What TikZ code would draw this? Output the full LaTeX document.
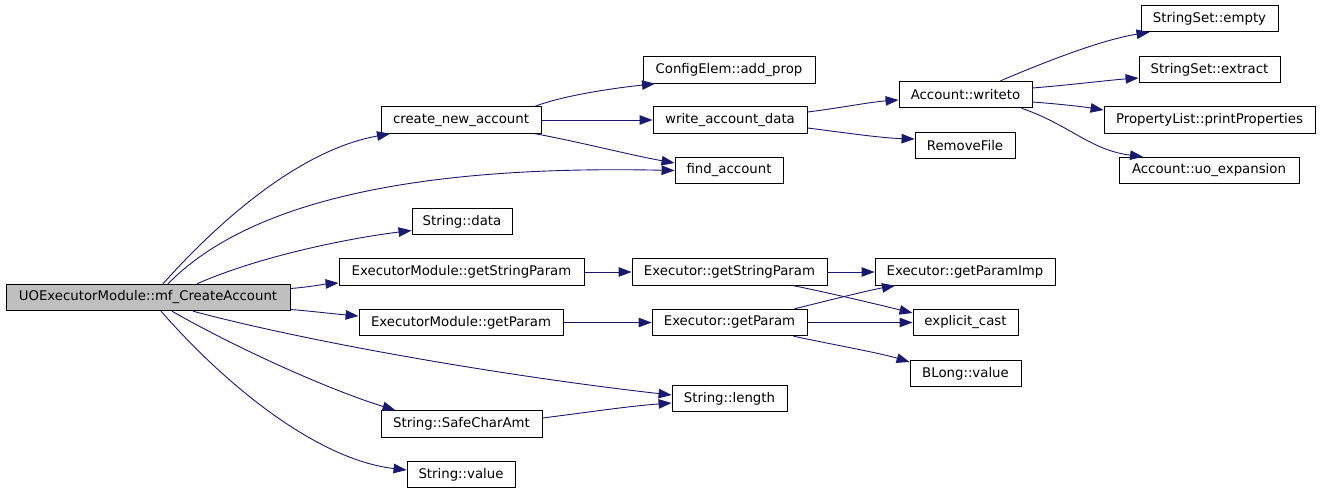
\documentclass[tikz,border=0pt]{standalone}
\usepackage{fontspec}
\setmainfont{DejaVu Sans}
\usetikzlibrary{arrows.meta}
\definecolor{edgeblue}{HTML}{191970}
\definecolor{mainfill}{HTML}{BFBFBF}
\tikzset{
  box/.style={draw=black, fill=white, line width=0.9pt, inner sep=0pt, minimum height=26.5pt, font=\fontsize{13.3}{15}\selectfont},
  mainbox/.style={box, fill=mainfill},
  edge/.style={draw=edgeblue, line width=0.9pt, -{Triangle[length=13pt,width=9.5pt]}},
}
\begin{document}
\begin{tikzpicture}[x=1pt,y=-1pt]
\useasboundingbox[fill=white] (0,0) rectangle (1320,493);
% nodes
\node[mainbox, minimum width=284pt] (main) at (148,297.5) {UOExecutorModule::mf\_CreateAccount};
\node[box, minimum width=160pt] (cna) at (461,120) {create\_new\_account};
\node[box, minimum width=172pt] (addprop) at (729,70) {ConfigElem::add\_prop};
\node[box, minimum width=154pt] (wad) at (730,120) {write\_account\_data};
\node[box, minimum width=108pt] (find) at (729,170.5) {find\_account};
\node[box, minimum width=133pt] (writeto) at (965.5,94.5) {Account::writeto};
\node[box, minimum width=137pt] (empty) at (1209.5,18.5) {StringSet::empty};
\node[box, minimum width=141pt] (extract) at (1209.5,69.5) {StringSet::extract};
\node[box, minimum width=211pt] (printprop) at (1209.5,120) {PropertyList::printProperties};
\node[box, minimum width=100pt] (removefile) at (965,145.5) {RemoveFile};
\node[box, minimum width=180pt] (uoexp) at (1209,170.5) {Account::uo\_expansion};
\node[box, minimum width=100pt] (data) at (462,221.5) {String::data};
\node[box, minimum width=245pt] (emgsp) at (461.5,272) {ExecutorModule::getStringParam};
\node[box, minimum width=204pt] (emgp) at (461,322.5) {ExecutorModule::getParam};
\node[box, minimum width=195pt] (exgsp) at (729.5,272) {Executor::getStringParam};
\node[box, minimum width=180pt] (gpi) at (965,272) {Executor::getParamImp};
\node[box, minimum width=155pt] (exgp) at (729.5,322.5) {Executor::getParam};
\node[box, minimum width=105pt] (cast) at (965.5,322.5) {explicit\_cast};
\node[box, minimum width=111pt] (blong) at (965.5,373.5) {BLong::value};
\node[box, minimum width=115pt] (length) at (729.5,398.5) {String::length};
\node[box, minimum width=161pt] (safe) at (461.5,424) {String::SafeCharAmt};
\node[box, minimum width=108pt] (value) at (461,474.5) {String::value};
% edges from main
\draw[edge] ([xshift=15pt]main.north) .. controls (220,220) and (300,150) .. ([xshift=-71pt]cna.south);
\draw[edge] ([xshift=20pt]main.north) .. controls (250,200) and (420,165) .. (find.west);
\draw[edge] ([xshift=49pt]main.north) .. controls (260,256) and (350,238) .. ([yshift=-9pt]data.west);
\draw[edge] ([yshift=9pt]main.east) .. controls (310,287) and (325,284) .. ([yshift=-11pt]emgsp.west);
\draw[edge] ([yshift=-12pt]main.east) .. controls (310,311) and (335,314) .. ([yshift=6.5pt]emgp.west);
\draw[edge] ([xshift=45pt]main.south) .. controls (320,345) and (520,378) .. ([yshift=3.5pt]length.west);
\draw[edge] ([xshift=24pt]main.south) .. controls (240,350) and (330,390) .. ([xshift=-66pt]safe.north);
\draw[edge] ([xshift=13pt]main.south) .. controls (230,390) and (320,460) .. ([yshift=4.5pt]value.west);
% create_new_account
\draw[edge] ([xshift=74pt]cna.north) .. controls (565,95) and (615,88) .. ([xshift=-74pt]addprop.south);
\draw[edge] (cna.east) -- (wad.west);
\draw[edge] ([xshift=74pt]cna.south) .. controls (580,142) and (630,155) .. ([yshift=7.5pt]find.west);
% write_account_data
\draw[edge] ([yshift=8pt]wad.east) .. controls (840,108) and (870,102) .. ([yshift=-5.5pt]writeto.west);
\draw[edge] ([yshift=-8pt]wad.east) .. controls (840,132) and (880,138) .. ([yshift=6.5pt]removefile.west);
% writeto
\draw[edge] ([xshift=35pt]writeto.north) .. controls (1040,64) and (1100,40) .. ([xshift=-60pt]empty.south);
\draw[edge] ([yshift=6.5pt]writeto.east) .. controls (1070,85) and (1110,80) .. ([yshift=-8.5pt]extract.west);
\draw[edge] ([yshift=-7.5pt]writeto.east) .. controls (1060,104) and (1085,107) .. ([yshift=10pt]printprop.west);
\draw[edge] ([xshift=56pt]writeto.south) .. controls (1070,125) and (1090,150) .. ([xshift=-66pt]uoexp.north);
% executor module
\draw[edge] (emgsp.east) -- (exgsp.west);
\draw[edge] (emgp.east) -- (exgp.west);
% executor
\draw[edge] (exgsp.east) -- (gpi.west);
\draw[edge] ([xshift=64pt]exgsp.south) .. controls (830,293) and (880,305) .. ([yshift=9.5pt]cast.west);
\draw[edge] ([xshift=65pt]exgp.north) .. controls (830,300) and (870,290) .. ([xshift=-70pt]gpi.south);
\draw[edge] (exgp.east) -- (cast.west);
\draw[edge] ([xshift=64pt]exgp.south) .. controls (830,344) and (880,353) .. ([yshift=11.5pt]blong.west);
% SafeCharAmt
\draw[edge] ([yshift=6pt]safe.east) .. controls (590,412) and (630,406) .. ([yshift=-4.5pt]length.west);
\end{tikzpicture}
\end{document}
